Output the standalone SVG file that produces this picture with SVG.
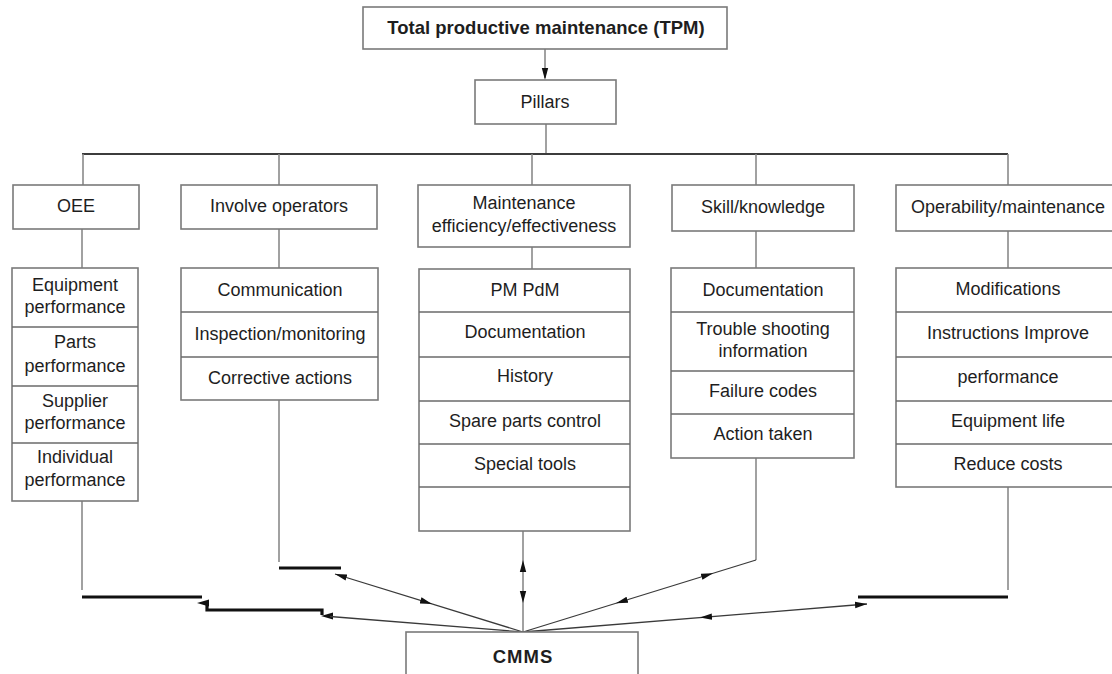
<svg xmlns="http://www.w3.org/2000/svg" width="1112" height="674" viewBox="0 0 1112 674">
<style>
  .bg{fill:#ffffff}
  .box{fill:#ffffff;stroke:#7a7a7a;stroke-width:1.6}
  .sep{stroke:#6a6a6a;stroke-width:1.5}
  .t{font-family:"Liberation Sans",Arial,sans-serif;font-size:18px;fill:#1e1e1e;text-anchor:middle}
  .tb{font-family:"Liberation Sans",Arial,sans-serif;font-size:18.5px;font-weight:bold;fill:#1e1e1e;text-anchor:middle}
  .drop{stroke:#8a8a8a;stroke-width:1.6;fill:none}
  .bus{stroke:#3c3c3c;stroke-width:2;fill:none}
  .bar{stroke:#111;stroke-width:3.2;fill:none}
  .cn{stroke:#3a3a3a;stroke-width:1.3;fill:none}
  .ah{stroke:none;fill:none;marker-end:url(#ah)}
</style>
<defs>
  <marker id="ah" viewBox="0 0 12 8" refX="12" refY="4" markerWidth="12" markerHeight="8" markerUnits="userSpaceOnUse" orient="auto">
    <path d="M0,0.8 L12,4 L0,7.2 z" fill="#111"/>
  </marker>
</defs>
<rect class="bg" x="0" y="0" width="1112" height="674"/>

<g id="connectors">
  <!-- TPM to Pillars -->
  <line class="drop" x1="545" y1="49" x2="545" y2="78"/>
  <path class="ah" d="M545,60 L545,80"/>
  <!-- Pillars to bus -->
  <line class="drop" x1="546" y1="124" x2="546" y2="154"/>
  <line class="bus" x1="82" y1="154" x2="1008" y2="154"/>
  <!-- bus drops -->
  <line class="drop" x1="83" y1="154" x2="83" y2="185"/>
  <line class="drop" x1="279" y1="154" x2="279" y2="185"/>
  <line class="drop" x1="532" y1="154" x2="532" y2="185"/>
  <line class="drop" x1="756" y1="154" x2="756" y2="185"/>
  <line class="drop" x1="1008" y1="154" x2="1008" y2="185"/>
  <!-- pillar to list -->
  <line class="drop" x1="82" y1="229" x2="82" y2="268"/>
  <line class="drop" x1="279" y1="229" x2="279" y2="268"/>
  <line class="drop" x1="532" y1="247" x2="532" y2="269"/>
  <line class="drop" x1="756" y1="231" x2="756" y2="268"/>
  <line class="drop" x1="1008" y1="231" x2="1008" y2="268"/>
  <!-- lists down -->
  <line class="drop" x1="82" y1="501" x2="82" y2="590"/>
  <line class="drop" x1="279" y1="400" x2="279" y2="562"/>
  <line class="drop" x1="523" y1="531" x2="523" y2="632"/>
  <line class="drop" x1="756" y1="458" x2="756" y2="560"/>
  <line class="drop" x1="1008" y1="487" x2="1008" y2="590"/>
  <!-- thick bars -->
  <line class="bar" x1="82" y1="597" x2="202" y2="597"/>
  <polyline class="bar" points="207,604 207,610 322,610 322,615"/>
  <path d="M197,603 L209,599.5 L209,606.5 z" fill="#111"/>
  <path d="M321,616 L333,612.5 L333,619.5 z" fill="#111"/>
  <line class="bar" x1="279" y1="568" x2="341" y2="568"/>
  <line class="bar" x1="858" y1="597" x2="1008" y2="597"/>
  <!-- lines to CMMS -->
  <line class="cn" x1="330" y1="616.5" x2="523" y2="632"/>
  <line class="cn" x1="335" y1="574" x2="523" y2="632"/>
  <path class="ah" d="M346.5,577.5 L335,574"/>
  <path class="ah" d="M420.5,600.3 L432,603.9"/>
  <path class="ah" d="M523,575 L523,560"/>
  <path class="ah" d="M523,588 L523,603"/>
  <line class="cn" x1="756" y1="560" x2="523" y2="632"/>
  <path class="ah" d="M701.5,576.8 L713,573.3"/>
  <path class="ah" d="M627.5,599.7 L616,603.3"/>
  <line class="cn" x1="867" y1="604" x2="523" y2="632"/>
  <path class="ah" d="M855,605 L867,604"/>
  <path class="ah" d="M712,616.6 L700,617.6"/>
</g>

<g id="tpm">
  <rect class="box" x="363" y="7" width="364" height="42"/>
  <text class="tb" x="546" y="34">Total productive maintenance (TPM)</text>
</g>
<g id="pillars">
  <rect class="box" x="475" y="80" width="141" height="44"/>
  <text class="t" x="545" y="108">Pillars</text>
</g>

<g id="oee">
  <rect class="box" x="13" y="185" width="126" height="44"/>
  <text class="t" x="76" y="212">OEE</text>
</g>
<g id="involve">
  <rect class="box" x="181" y="185" width="196" height="44"/>
  <text class="t" x="279" y="212">Involve operators</text>
</g>
<g id="maint">
  <rect class="box" x="418" y="185" width="212" height="62"/>
  <text class="t" x="524" y="209">Maintenance</text>
  <text class="t" x="524" y="232">efficiency/effectiveness</text>
</g>
<g id="skill">
  <rect class="box" x="672" y="185" width="182" height="46"/>
  <text class="t" x="763" y="213">Skill/knowledge</text>
</g>
<g id="oper">
  <rect class="box" x="896" y="185" width="230" height="46"/>
  <text class="t" x="1008" y="213">Operability/maintenance</text>
</g>

<g id="oee-list">
  <rect class="box" x="12" y="268" width="126" height="233"/>
  <line class="sep" x1="12" y1="327" x2="138" y2="327"/>
  <line class="sep" x1="12" y1="386" x2="138" y2="386"/>
  <line class="sep" x1="12" y1="443" x2="138" y2="443"/>
  <text class="t" x="75" y="291">Equipment</text>
  <text class="t" x="75" y="313">performance</text>
  <text class="t" x="75" y="348">Parts</text>
  <text class="t" x="75" y="372">performance</text>
  <text class="t" x="75" y="407">Supplier</text>
  <text class="t" x="75" y="429">performance</text>
  <text class="t" x="75" y="463">Individual</text>
  <text class="t" x="75" y="486">performance</text>
</g>
<g id="involve-list">
  <rect class="box" x="181" y="268" width="197" height="132"/>
  <line class="sep" x1="181" y1="312" x2="378" y2="312"/>
  <line class="sep" x1="181" y1="357" x2="378" y2="357"/>
  <text class="t" x="280" y="296">Communication</text>
  <text class="t" x="280" y="340">Inspection/monitoring</text>
  <text class="t" x="280" y="384">Corrective actions</text>
</g>
<g id="maint-list">
  <rect class="box" x="419" y="269" width="211" height="262"/>
  <line class="sep" x1="419" y1="312" x2="630" y2="312"/>
  <line class="sep" x1="419" y1="357" x2="630" y2="357"/>
  <line class="sep" x1="419" y1="401" x2="630" y2="401"/>
  <line class="sep" x1="419" y1="444" x2="630" y2="444"/>
  <line class="sep" x1="419" y1="487" x2="630" y2="487"/>
  <text class="t" x="525" y="296">PM PdM</text>
  <text class="t" x="525" y="338">Documentation</text>
  <text class="t" x="525" y="382">History</text>
  <text class="t" x="525" y="427">Spare parts control</text>
  <text class="t" x="525" y="470">Special tools</text>
</g>
<g id="skill-list">
  <rect class="box" x="671" y="268" width="183" height="190"/>
  <line class="sep" x1="671" y1="312" x2="854" y2="312"/>
  <line class="sep" x1="671" y1="371" x2="854" y2="371"/>
  <line class="sep" x1="671" y1="414" x2="854" y2="414"/>
  <text class="t" x="763" y="296">Documentation</text>
  <text class="t" x="763" y="335">Trouble shooting</text>
  <text class="t" x="763" y="357">information</text>
  <text class="t" x="763" y="397">Failure codes</text>
  <text class="t" x="763" y="440">Action taken</text>
</g>
<g id="oper-list">
  <rect class="box" x="896" y="268" width="230" height="219"/>
  <line class="sep" x1="896" y1="312" x2="1126" y2="312"/>
  <line class="sep" x1="896" y1="357" x2="1126" y2="357"/>
  <line class="sep" x1="896" y1="401" x2="1126" y2="401"/>
  <line class="sep" x1="896" y1="444" x2="1126" y2="444"/>
  <text class="t" x="1008" y="295">Modifications</text>
  <text class="t" x="1008" y="339">Instructions Improve</text>
  <text class="t" x="1008" y="383">performance</text>
  <text class="t" x="1008" y="427">Equipment life</text>
  <text class="t" x="1008" y="470">Reduce costs</text>
</g>

<g id="cmms">
  <rect class="box" x="406" y="632" width="232" height="60"/>
  <text class="tb" x="523" y="663" style="letter-spacing:1px">CMMS</text>
</g>
</svg>
